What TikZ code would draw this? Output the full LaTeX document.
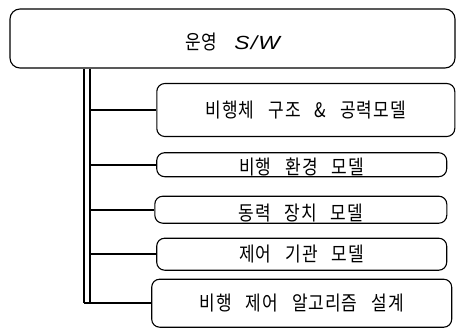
\documentclass[tikz,border=0pt]{standalone}
\usepackage{fontspec}
\newfontfamily\krfont{Noto Sans CJK KR}[FakeStretch=0.85,LetterSpace=5,WordSpace=2.9]
\newfontfamily\swfont{Liberation Sans}[FakeStretch=1.2,LetterSpace=6]
\usetikzlibrary{positioning}

\begin{document}
\begin{tikzpicture}[x=1pt,y=-1pt,
    module/.style={draw, rounded corners=8pt, line width=1.1pt, inner sep=0pt,
      font=\krfont\fontsize{20}{24}\selectfont},
    branch/.style={line width=2pt}]
  \useasboundingbox (0,0) rectangle (457,329);
  \node [module, rounded corners=10pt, minimum width=445pt, minimum height=59pt,
    text height=24pt, text depth=2pt] (sw) at (232.5,38.5)
    {운영\hspace{3pt} {\swfont\itshape\fontsize{19}{23}\selectfont S/W}};
  \node [module, minimum width=298pt, minimum height=53pt] (airframe) at (305.8,110)
    {비행체 구조 \& 공력모델};
  \node [module, minimum width=290pt, minimum height=24pt, text height=22pt, text depth=2pt]
    (environment) at (301.7,164.7) {비행 환경 모델};
  \node [module, minimum width=292pt, minimum height=27pt, text height=24pt, text depth=2pt]
    (powerplant) at (300.8,209.7) {동력 장치 모델};
  \node [module, minimum width=290pt, minimum height=32pt] (actuator) at (301.7,254.2)
    {제어 기관 모델};
  \node [module, minimum width=300pt, minimum height=48pt] (controller) at (301.7,303.2)
    {비행 제어 알고리즘 설계};
  % trunk
  \coordinate (trunk) at (87,0);
  \draw [double, double distance=4.5pt, line width=1.4pt]
    (sw.south -| trunk) -- (trunk |- controller.west);
  \foreach \m in {airframe,environment,powerplant,actuator}
    \draw [branch] (trunk |- \m.west) ++(3pt,0) -- (\m.west);
  \draw [branch] (trunk |- controller.west) ++(-3pt,0) -- (controller.west);
\end{tikzpicture}
\end{document}
